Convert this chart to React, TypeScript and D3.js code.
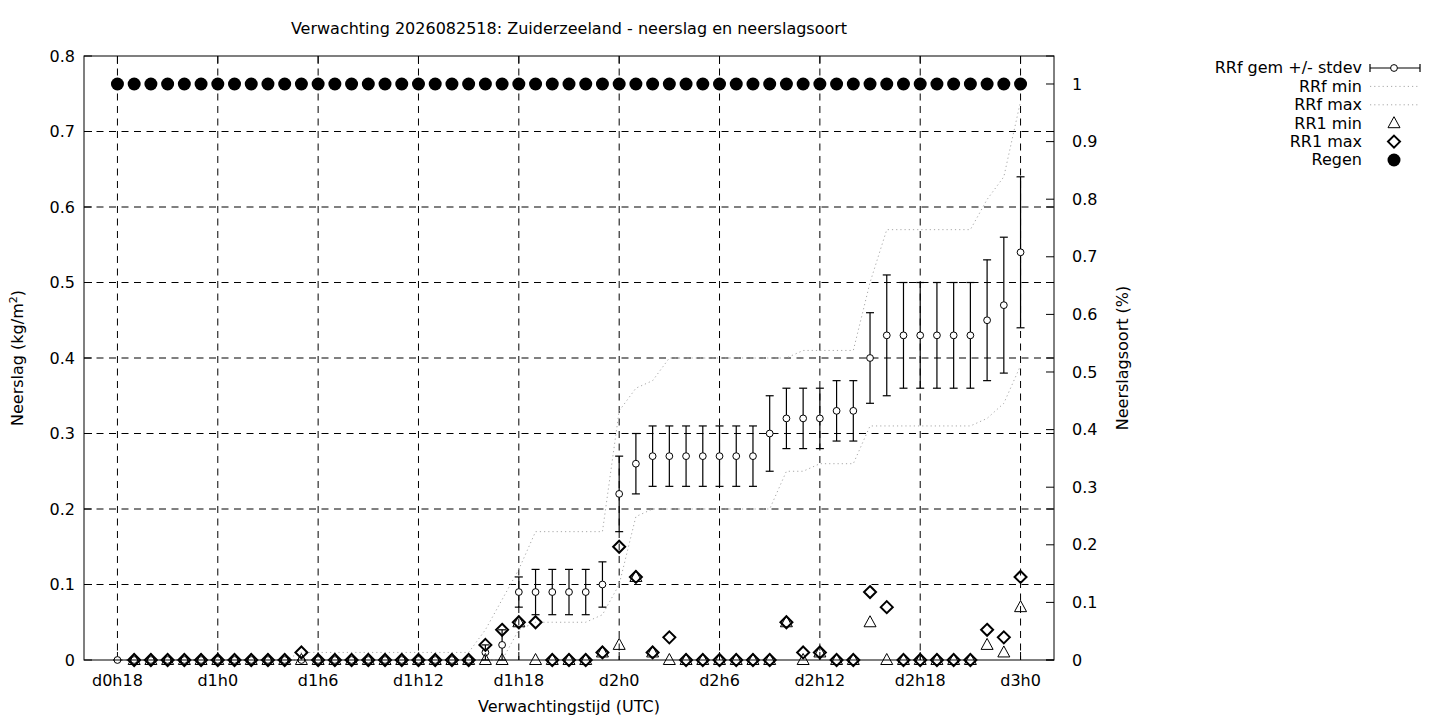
import React from 'react';
import * as d3 from 'd3';

const hours = [18,19,20,21,22,23,24,25,26,27,28,29,30,31,32,33,34,35,36,37,38,39,40,41,42,43,44,45,46,47,48,49,50,51,52,53,54,55,56,57,58,59,60,61,62,63,64,65,66,67,68,69,70,71,72];
const xTickHours = [18,24,30,36,42,48,54,60,66,72];
const xTickLabels = ['d0h18','d1h0','d1h6','d1h12','d1h18','d2h0','d2h6','d2h12','d2h18','d3h0'];
const yTicks = [0,0.1,0.2,0.3,0.4,0.5,0.6,0.7,0.8];
const yTickLabels = ['0','0.1','0.2','0.3','0.4','0.5','0.6','0.7','0.8'];
const y2Ticks = [0,0.1,0.2,0.3,0.4,0.5,0.6,0.7,0.8,0.9,1];
const y2TickLabels = ['0','0.1','0.2','0.3','0.4','0.5','0.6','0.7','0.8','0.9','1'];

const rrfMean = [
  0,0,0,0,0,0,0,0,0,0,0,0,0,0,0,0,0,0,0,0,0,0,
  0.01,0.02,0.09,0.09,0.09,0.09,0.09,0.10,0.22,0.26,
  0.27,0.27,0.27,0.27,0.27,0.27,0.27,0.30,0.32,0.32,
  0.32,0.33,0.33,0.40,0.43,0.43,0.43,0.43,0.43,0.43,
  0.45,0.47,0.54];
const rrfStdev = [
  0,0,0,0,0,0,0,0,0,0,0,0,0,0,0,0,0,0,0,0,0,0,
  0.01,0.02,0.02,0.03,0.03,0.03,0.03,0.03,0.05,0.04,
  0.04,0.04,0.04,0.04,0.04,0.04,0.04,0.05,0.04,0.04,
  0.04,0.04,0.04,0.06,0.08,0.07,0.07,0.07,0.07,0.07,
  0.08,0.09,0.10];
const rrfMin = [
  0,0,0,0,0,0,0,0,0,0,0,0,0,0,0,0,0,0,0,0,0,0,0,0,
  0.04,0.05,0.05,0.05,0.05,0.06,0.10,0.19,
  0.20,0.20,0.20,0.20,0.20,0.20,0.20,0.20,0.25,0.25,
  0.26,0.26,0.26,0.31,0.31,0.31,0.31,0.31,0.31,0.31,
  0.32,0.34,0.39];
const rrfMax = [
  0,0,0,0,0,0,0,0,0,0,0,
  0.01,0.01,0.01,0.01,0.01,0.01,0.01,0.01,0.01,0.01,0.01,
  0.04,0.08,0.12,0.17,0.17,0.17,0.17,0.17,0.33,0.36,
  0.37,0.40,0.40,0.40,0.40,0.40,0.40,0.40,0.40,0.41,
  0.41,0.41,0.41,0.50,0.57,0.57,0.57,0.57,0.57,0.57,
  0.61,0.64,0.74];
const rr1Min: (number | null)[] = [
  null,
  0,0,0,0,0,0,0,0,0,0,0,0,0,0,0,0,0,0,0,0,0,
  0,0,0.05,0,0,0,0,0.01,0.02,0.11,
  0.01,0,0,0,0,0,0,0,0.05,0,
  0.01,0,0,0.05,0,0,0,0,0,0,
  0.02,0.01,0.07];
const rr1Max: (number | null)[] = [
  null,
  0,0,0,0,0,0,0,0,0,0,
  0.01,
  0,0,0,0,0,0,0,0,0,0,
  0.02,0.04,0.05,0.05,0,0,0,0.01,0.15,0.11,
  0.01,0.03,0,0,0,0,0,0,0.05,0.01,
  0.01,0,0,0.09,0.07,0,0,0,0,0,
  0.04,0.03,0.11];
const regen = [1,1,1,1,1,1,1,1,1,1,1,1,1,1,1,1,1,1,1,1,1,1,1,1,1,1,1,1,1,1,1,1,1,1,1,1,1,1,1,1,1,1,1,1,1,1,1,1,1,1,1,1,1,1,1];

const legendLabels = ['RRf gem +/- stdev','RRf min','RRf max','RR1 min','RR1 max','Regen'];

const FONT = 'DejaVu Sans, sans-serif';
const FS = 16;
const L = 84, R = 1054, T = 56, B = 660;

const x = d3.scaleLinear().domain([16, 74]).range([L, R]);
const y = d3.scaleLinear().domain([0, 0.8]).range([B, T]);
const y2 = d3.scaleLinear().domain([0, 1.0486]).range([B, T]);

const tri = (cx: number, cy: number) => `M${cx},${cy - 6.5} L${cx + 6},${cy + 4.5} L${cx - 6},${cy + 4.5} Z`;
const dia = (cx: number, cy: number) => `M${cx},${cy - 6} L${cx + 6},${cy} L${cx},${cy + 6} L${cx - 6},${cy} Z`;

export default function App() {
  const lineGen = d3.line<number>().x((_, i) => x(hours[i])).y((d) => y(d));
  const dotStyle = { stroke: '#a8a8a8', strokeWidth: 1, strokeDasharray: '1.2,3', fill: 'none' };
  const GRID = '7,5.5';
  const legX = 1362;
  const legS = 1370, legE = 1420, legC = 1394;
  const legBase = [73.3, 91.7, 110.1, 128.5, 146.9, 165.3];
  return (
    <svg width={1440} height={720} style={{ position: 'absolute', left: 0, top: 0, background: '#fff' }} fontFamily={FONT} fontSize={FS}>
      <rect x={0} y={0} width={1440} height={720} fill="#fff" />
      {yTicks.filter((v) => v > 0 && v < 0.8).map((v) => (
        <line key={'gy' + v} x1={L} x2={R} y1={y(v)} y2={y(v)} stroke="#000" strokeWidth={1} strokeDasharray={GRID} />
      ))}
      {xTickHours.map((h) => (
        <line key={'gx' + h} x1={x(h)} x2={x(h)} y1={T} y2={B} stroke="#000" strokeWidth={1} strokeDasharray={GRID} />
      ))}
      {yTicks.map((v, i) => (
        <g key={'ty' + v}>
          <line x1={L} x2={L + 8} y1={y(v)} y2={y(v)} stroke="#000" />
          <line x1={R} x2={R - 8} y1={y(v)} y2={y(v)} stroke="#000" />
          <text x={75} y={y(v) + 5.7} textAnchor="end">{yTickLabels[i]}</text>
        </g>
      ))}
      {y2Ticks.map((v, i) => (
        <g key={'ty2' + v}>
          <line x1={R} x2={R - 8} y1={y2(v)} y2={y2(v)} stroke="#000" />
          <text x={1072} y={y2(v) + 5.7} textAnchor="start">{y2TickLabels[i]}</text>
        </g>
      ))}
      {xTickHours.map((h, i) => (
        <g key={'tx' + h}>
          <line x1={x(h)} x2={x(h)} y1={B} y2={B - 8} stroke="#000" />
          <line x1={x(h)} x2={x(h)} y1={T} y2={T + 8} stroke="#000" />
          <text x={x(h)} y={686} textAnchor="middle">{xTickLabels[i]}</text>
        </g>
      ))}
      <path d={lineGen(rrfMin) || ''} {...dotStyle} />
      <path d={lineGen(rrfMax) || ''} {...dotStyle} />
      {hours.map((h, i) => {
        const cx = x(h);
        const lo = y(Math.max(0, rrfMean[i] - rrfStdev[i]));
        const hi = y(rrfMean[i] + rrfStdev[i]);
        return (
          <g key={'eb' + h} stroke="#000" strokeWidth={1.2}>
            <line x1={cx} x2={cx} y1={lo} y2={hi} />
            <line x1={cx - 4} x2={cx + 4} y1={lo} y2={lo} />
            <line x1={cx - 4} x2={cx + 4} y1={hi} y2={hi} />
            <circle cx={cx} cy={y(rrfMean[i])} r={3.4} fill="#fff" strokeWidth={1} />
          </g>
        );
      })}
      {hours.map((h, i) => rr1Min[i] === null ? null : (
        <path key={'tr' + h} d={tri(x(h), y(rr1Min[i] as number))} fill="none" stroke="#000" strokeWidth={1} />
      ))}
      {hours.map((h, i) => rr1Max[i] === null ? null : (
        <path key={'dm' + h} d={dia(x(h), y(rr1Max[i] as number))} fill="none" stroke="#000" strokeWidth={2} />
      ))}
      {hours.map((h, i) => (
        <circle key={'rg' + h} cx={x(h)} cy={y2(regen[i])} r={6.5} fill="#000" />
      ))}
      <rect x={L} y={T} width={R - L} height={B - T} fill="none" stroke="#000" strokeWidth={1} />
      <text x={569} y={34} textAnchor="middle">Verwachting 2026082518: Zuiderzeeland - neerslag en neerslagsoort</text>
      <text x={569} y={712} textAnchor="middle">Verwachtingstijd (UTC)</text>
      <text transform="translate(23,358) rotate(-90)" textAnchor="middle">
        Neerslag (kg/m<tspan dy={-6} fontSize={11}>2</tspan><tspan dy={6}>)</tspan>
      </text>
      <text transform="translate(1128,358) rotate(-90)" textAnchor="middle">Neerslagsoort (%)</text>
      {legendLabels.map((t, i) => (
        <text key={'lg' + i} x={legX} y={legBase[i]} textAnchor="end">{t}</text>
      ))}
      <g stroke="#000" strokeWidth={1.2}>
        <line x1={legS} x2={legE} y1={legBase[0] - 5.3} y2={legBase[0] - 5.3} />
        <line x1={legS} x2={legS} y1={legBase[0] - 9.3} y2={legBase[0] - 1.3} />
        <line x1={legE} x2={legE} y1={legBase[0] - 9.3} y2={legBase[0] - 1.3} />
        <circle cx={legC} cy={legBase[0] - 5.3} r={3.4} fill="#fff" strokeWidth={1} />
      </g>
      <line x1={legS} x2={legE} y1={legBase[1] - 5.3} y2={legBase[1] - 5.3} {...dotStyle} />
      <line x1={legS} x2={legE} y1={legBase[2] - 5.3} y2={legBase[2] - 5.3} {...dotStyle} />
      <path d={tri(legC, legBase[3] - 5.3)} fill="none" stroke="#000" strokeWidth={1} />
      <path d={dia(legC, legBase[4] - 5.3)} fill="none" stroke="#000" strokeWidth={2} />
      <circle cx={legC} cy={legBase[5] - 5.3} r={6.5} fill="#000" />
    </svg>
  );
}
